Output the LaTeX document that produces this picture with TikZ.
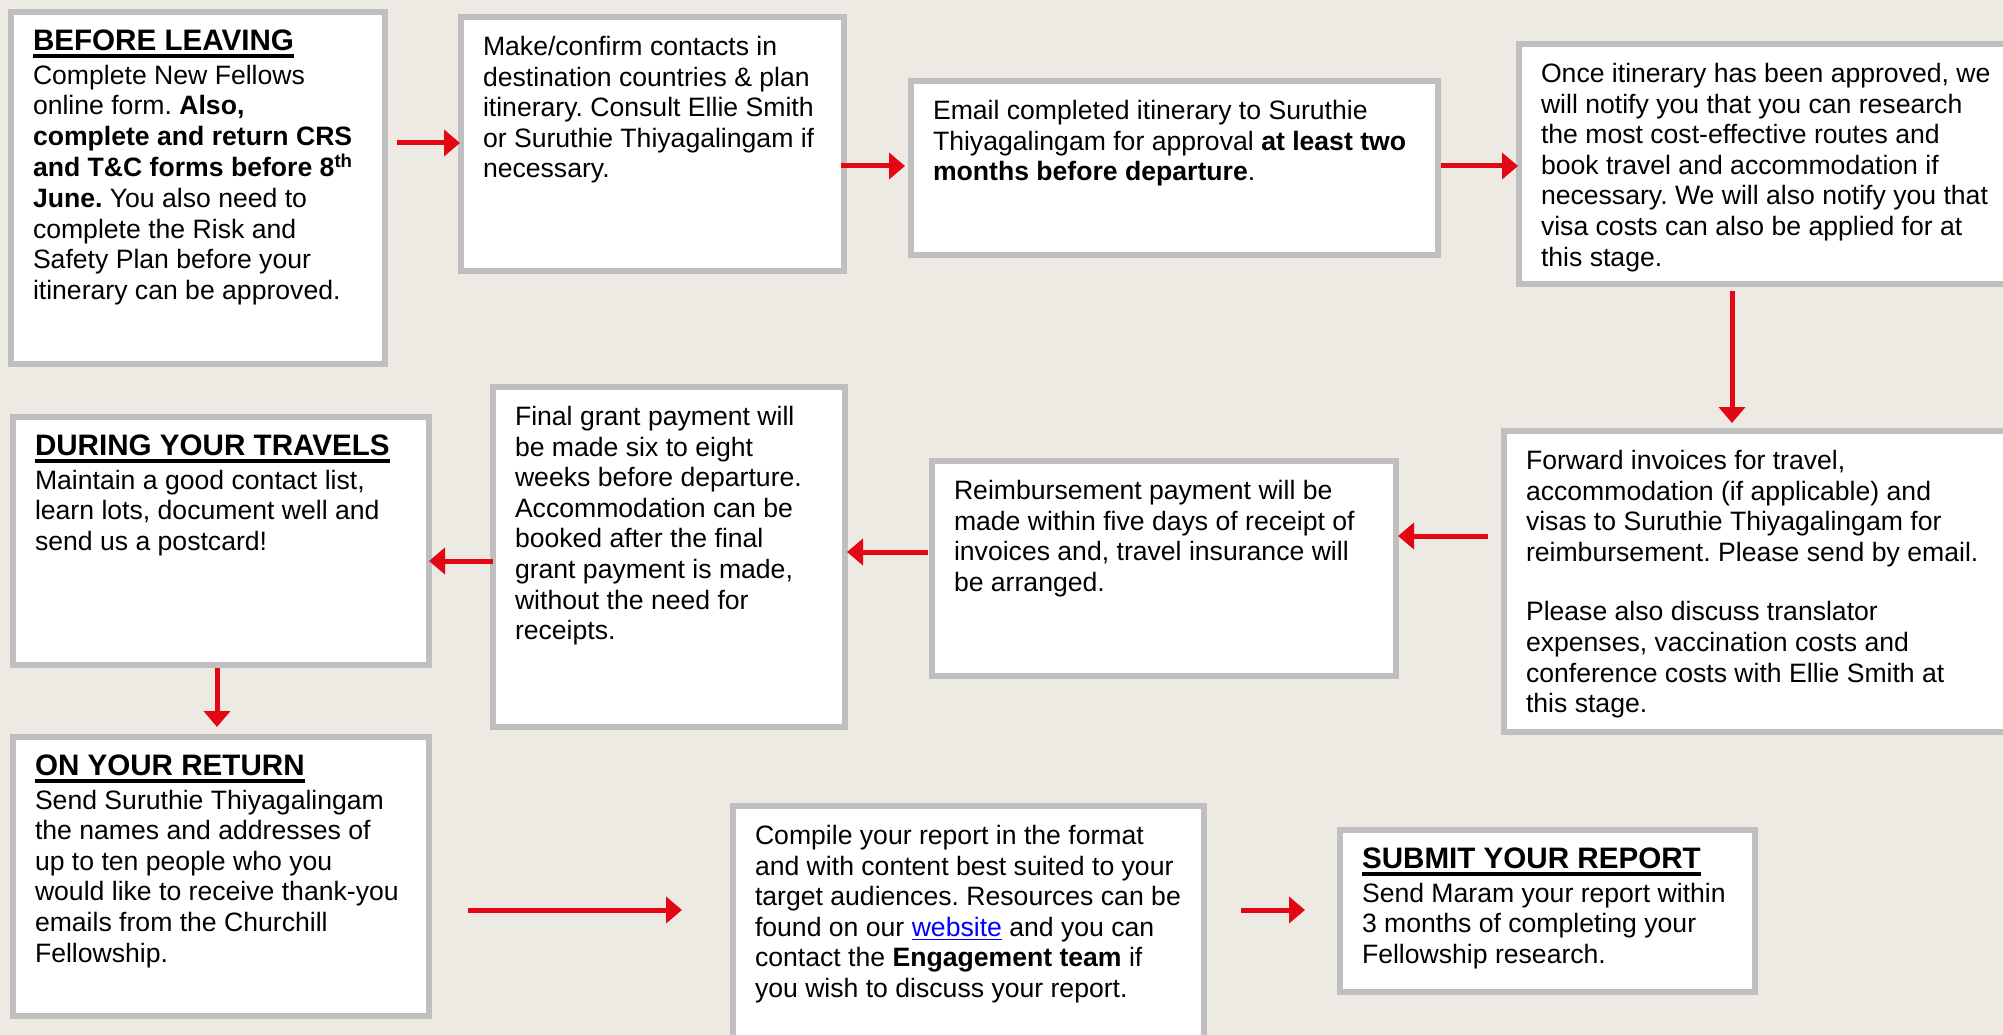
\documentclass[tikz,border=0pt]{standalone}
\usepackage{fontspec}
\setmainfont{Liberation Sans}
\usepackage{xcolor}
\usetikzlibrary{arrows.meta}
\definecolor{fellowbg}{RGB}{237, 233, 227}
\definecolor{fellowgray}{RGB}{191, 191, 191}
\definecolor{fellowred}{RGB}{227, 6, 19}
\definecolor{fellowlink}{RGB}{0, 0, 255}

\newcommand{\cardfont}{\fontsize{26.6pt}{30.6pt}\selectfont\frenchspacing}
\newcommand{\cardtext}[3]{\parbox[t][#2pt][t]{#1pt}{\begin{tabular}[t]{@{}l@{}}#3\end{tabular}}}
\newcommand{\cardhead}[1]{\setbox0=\hbox{\fontsize{29.6pt}{30.6pt}\selectfont\bfseries #1}\rlap{\rule[-7.5pt]{\wd0}{3.5pt}}\box0}
\newcommand{\weblink}[1]{\textcolor{fellowlink}{\setbox0=\hbox{#1}\rlap{\rule[-4pt]{\wd0}{1.5pt}}\box0}}

\begin{document}
\begin{tikzpicture}[
    x=1pt, y=-1pt,
    card/.style={
        rectangle,
        draw=fellowgray,
        line width=6pt,
        fill=white,
        anchor=north west,
        inner xsep=22pt,
        inner ysep=17pt,
        outer sep=3pt,
        font=\cardfont
    },
    flow/.style={
        -{Triangle[length=16pt,width=26pt]},
        line width=5pt,
        fellowred
    }
]

% Background rectangle
\useasboundingbox (0,0) rectangle (2003,1035);
\clip (0,0) rectangle (2003,1035);
\fill[fellowbg] (0,0) rectangle (2003,1035);

% Nodes
\node[card] (leave) at (8,9) {\cardtext{330}{318}{%
    \cardhead{BEFORE LEAVING}\\[3pt]
    Complete New Fellows\\
    online form. \textbf{Also,}\\
    \textbf{complete and return CRS}\\
    \textbf{and T\&C forms before 8\textsuperscript{th}}\\
    \textbf{June.} You also need to\\
    complete the Risk and\\
    Safety Plan before your\\
    itinerary can be approved.}};
\node[card] (contacts) at (458,14) {\cardtext{339}{220}{%
    Make/confirm contacts in\\
    destination countries \& plan\\
    itinerary. Consult Ellie Smith\\
    or Suruthie Thiyagalingam if\\
    necessary.}};
\node[card] (approval) at (908,78) {\cardtext{483}{140}{%
    Email completed itinerary to Suruthie\\
    Thiyagalingam for approval \textbf{at least two}\\
    \textbf{months before departure}.}};
\node[card] (booking) at (1516,41) {\cardtext{464}{206}{%
    Once itinerary has been approved, we\\
    will notify you that you can research\\
    the most cost-effective routes and\\
    book travel and accommodation if\\
    necessary. We will also notify you that\\
    visa costs can also be applied for at\\
    this stage.}};
\node[card] (invoices) at (1501,428) {\cardtext{479}{267}{%
    Forward invoices for travel,\\
    accommodation (if applicable) and\\
    visas to Suruthie Thiyagalingam for\\
    reimbursement. Please send by email.\\[29pt]
    Please also discuss translator\\
    expenses, vaccination costs and\\
    conference costs with Ellie Smith at\\
    this stage.}};
\node[card] (refund) at (929,458) {\cardtext{420}{181}{%
    Reimbursement payment will be\\
    made within five days of receipt of\\
    invoices and, travel insurance will\\
    be arranged.}};
\node[card] (grant) at (490,384) {\cardtext{308}{306}{%
    Final grant payment will\\
    be made six to eight\\
    weeks before departure.\\
    Accommodation can be\\
    booked after the final\\
    grant payment is made,\\
    without the need for\\
    receipts.}};
\node[card] (travels) at (10,414) {\cardtext{372}{214}{%
    \cardhead{DURING YOUR TRAVELS}\\[3pt]
    Maintain a good contact list,\\
    learn lots, document well and\\
    send us a postcard!}};
\node[card] (return) at (10,734) {\cardtext{372}{245}{%
    \cardhead{ON YOUR RETURN}\\[3pt]
    Send Suruthie Thiyagalingam\\
    the names and addresses of\\
    up to ten people who you\\
    would like to receive thank-you\\
    emails from the Churchill\\
    Fellowship.}};
\node[card] (compile) at (730,803) {\cardtext{427}{222}{%
    Compile your report in the format\\
    and with content best suited to your\\
    target audiences. Resources can be\\
    found on our \weblink{website} and you can\\
    contact the \textbf{Engagement team} if\\
    you wish to discuss your report.}};
\node[card] (submit) at (1337,827) {\cardtext{371}{128}{%
    \cardhead{SUBMIT YOUR REPORT}\\[3pt]
    Send Maram your report within\\
    3 months of completing your\\
    Fellowship research.}};

% Arrows
\draw[flow, shorten <=9pt, shorten >=-2pt] (leave.east |- 0,143) -- (contacts.west |- 0,143);
\draw[flow, shorten <=-6pt, shorten >=3pt] (contacts.east |- 0,166) -- (approval.west |- 0,166);
\draw[flow, shorten <=0pt, shorten >=-2pt] (approval.east |- 0,166) -- (booking.west |- 0,166);
\draw[flow, shorten <=4pt, shorten >=5pt] (booking.south -| 1732,0) -- (invoices.north -| 1732,0);
\draw[flow, shorten <=13pt, shorten >=-1pt] (invoices.west |- 0,536) -- (refund.east |- 0,536);
\draw[flow, shorten <=1pt, shorten >=-1pt] (refund.west |- 0,552) -- (grant.east |- 0,552);
\draw[flow, shorten <=-3pt, shorten >=-3pt] (grant.west |- 0,561) -- (travels.east |- 0,561);
\draw[flow, shorten <=0pt, shorten >=7pt] (travels.south -| 217,0) -- (return.north -| 217,0);
\draw[flow, shorten <=36pt, shorten >=48pt] (return.east |- 0,910) -- (compile.west |- 0,910);
\draw[flow, shorten <=34pt, shorten >=32pt] (compile.east |- 0,910) -- (submit.west |- 0,910);

\end{tikzpicture}
\end{document}
